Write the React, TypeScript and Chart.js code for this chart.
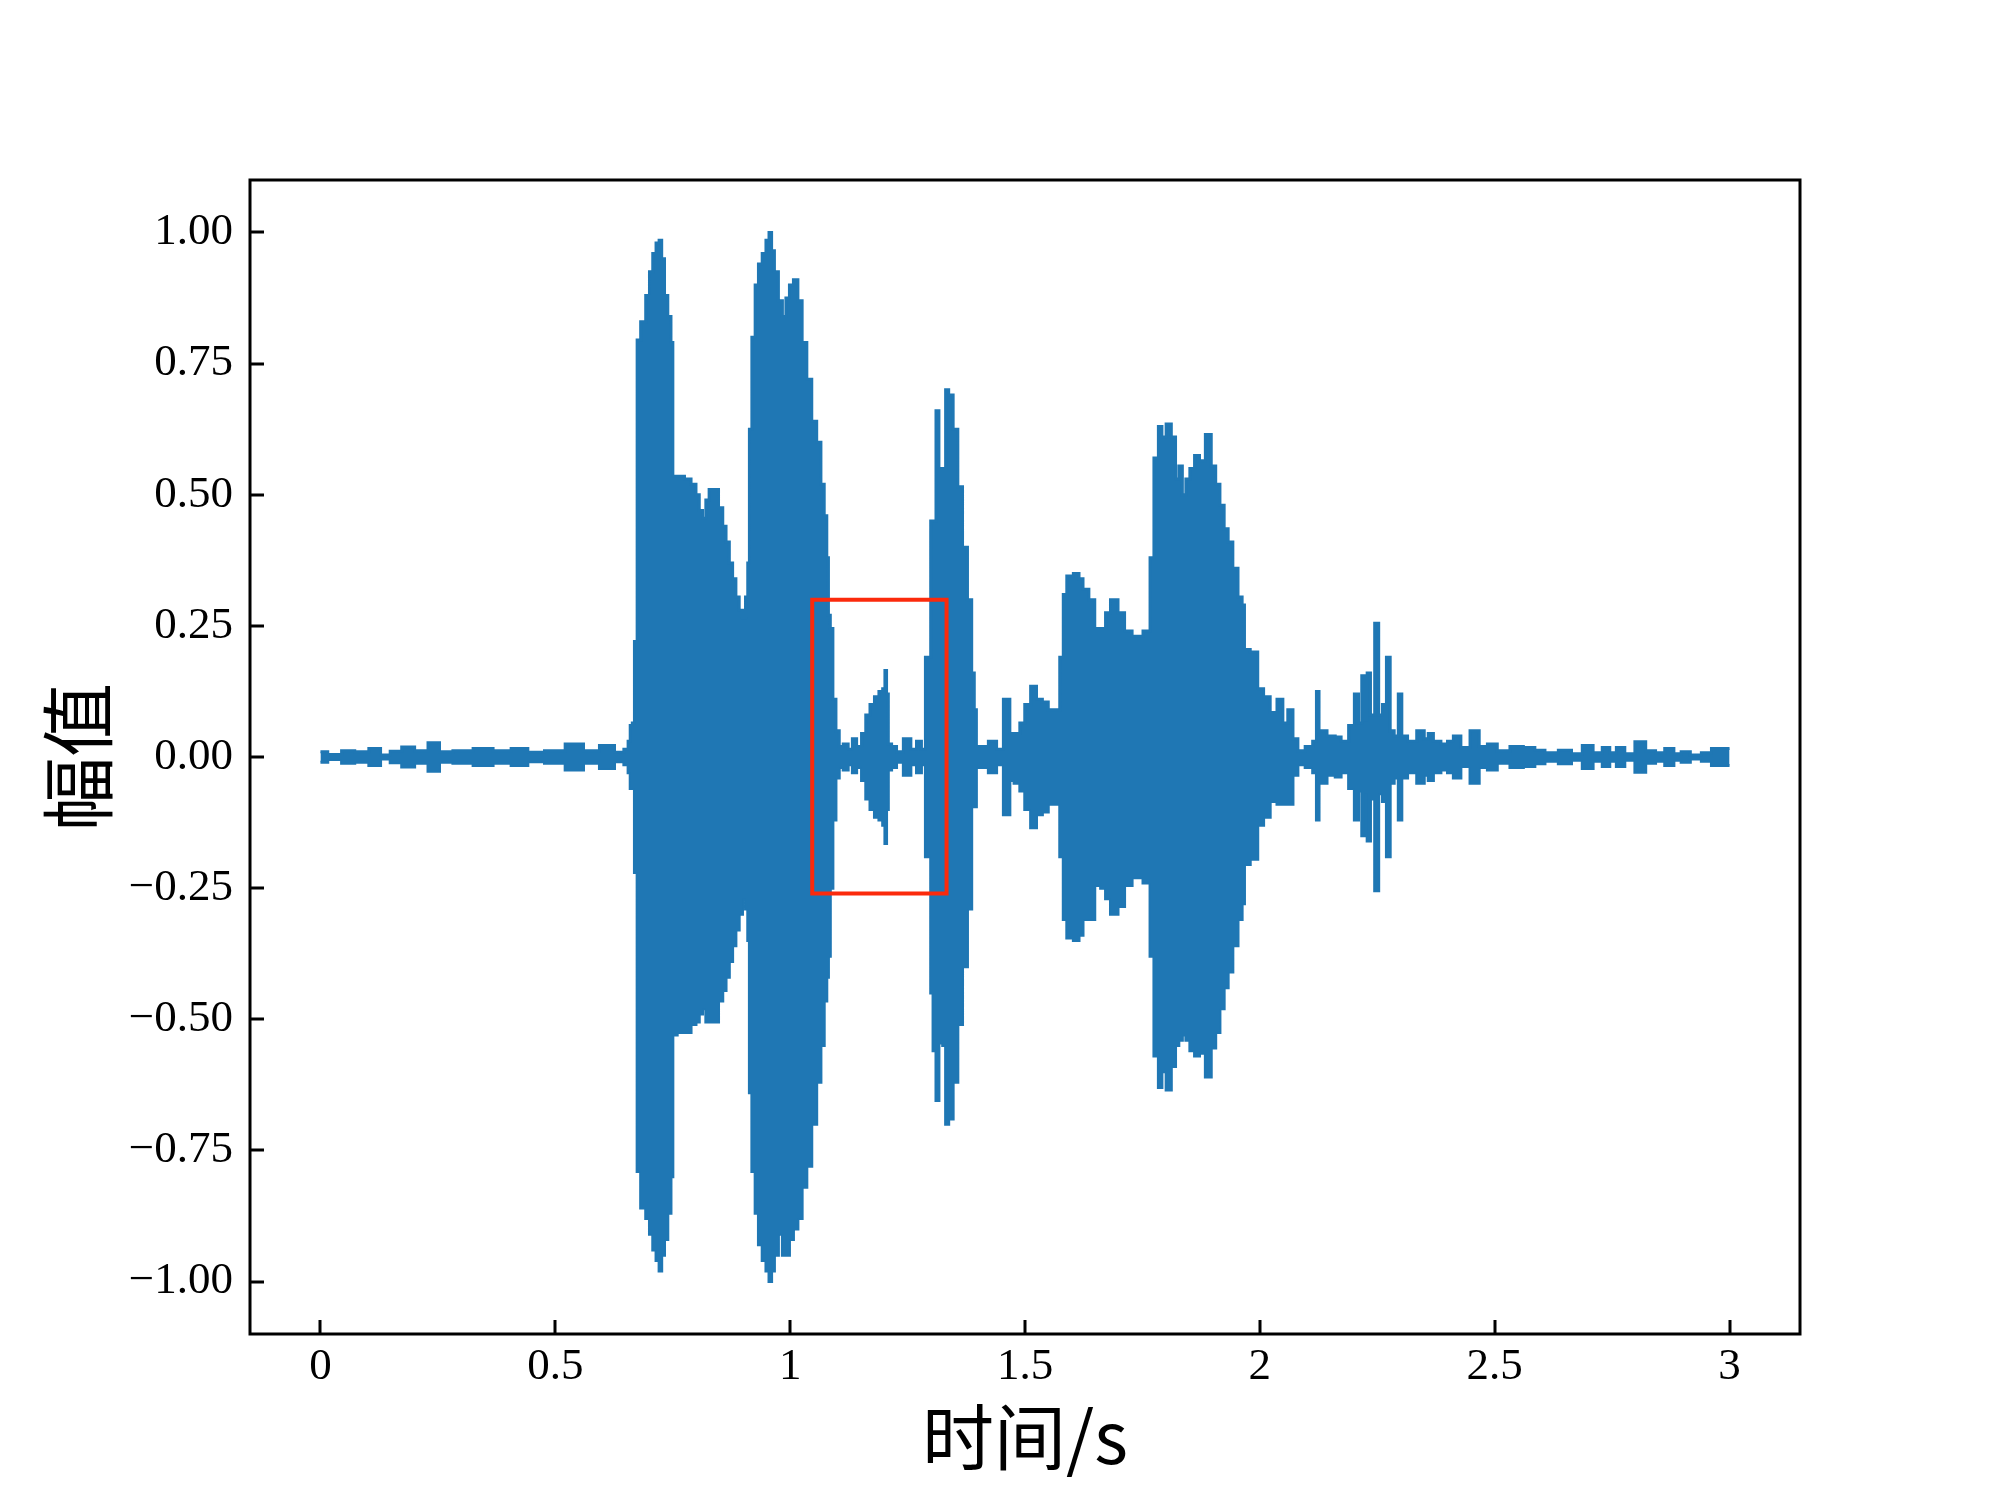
import React, { useEffect, useRef } from 'react';
import { Chart, registerables } from 'chart.js';

Chart.register(...registerables);

// ---- data ----
// time axis (s) of the envelope readings
const timeS = [
  // quiet start
  0.000, 0.031, 0.059, 0.087, 0.119, 0.137, 0.160, 0.186, 0.215, 0.243, 0.264, 0.300, 0.350, 0.385, 0.427, 0.456, 0.498, 0.544, 0.576, 0.612, 0.640, 0.652,
  // bursts 1 & 2
  0.658, 0.661, 0.667, 0.670, 0.673, 0.6755, 0.688, 0.697, 0.704, 0.711, 0.718, 0.724, 0.729, 0.736, 0.743, 0.7495, 0.751, 0.768, 0.782, 0.796, 0.803, 0.810, 0.817, 0.824, 0.831, 0.842, 0.853, 0.860, 0.867, 0.874, 0.881, 0.888, 0.895, 0.902, 0.908, 0.9115, 0.915, 0.922, 0.929, 0.936, 0.945, 0.952, 0.958, 0.963, 0.970, 0.980, 0.987, 0.995, 1.002, 1.012, 1.021, 1.030, 1.041, 1.051, 1.062, 1.069, 1.076, 1.080, 1.083, 1.088, 1.094, 1.101,
  // gap + burst 3
  1.108, 1.118, 1.129, 1.136, 1.147, 1.157, 1.165, 1.175, 1.184, 1.194, 1.200, 1.2035, 1.207, 1.211, 1.221, 1.232, 1.250, 1.264, 1.274, 1.285, 1.291, 1.298, 1.3005, 1.308, 1.313, 1.3205, 1.329, 1.333, 1.342, 1.352, 1.362, 1.372, 1.383, 1.390, 1.394, 1.399, 1.413, 1.431, 1.448, 1.460, 1.466, 1.4695, 1.484, 1.494, 1.505, 1.519, 1.530, 1.544, 1.555, 1.569, 1.579, 1.584, 1.594, 1.612,
  // burst 4
  1.618, 1.629, 1.643, 1.654, 1.668, 1.675, 1.689, 1.707, 1.717, 1.739, 1.7635, 1.769, 1.780, 1.788, 1.795, 1.806, 1.817, 1.824, 1.831, 1.839, 1.846, 1.856, 1.866, 1.877, 1.891, 1.902, 1.910, 1.920, 1.928, 1.937, 1.948, 1.959, 1.9655, 1.969, 1.990, 2.001, 2.015, 2.029, 2.044, 2.054, 2.065, 2.076, 2.086, 2.107, 2.118, 2.123, 2.129, 2.157,
  // clicks
  2.164, 2.182, 2.196, 2.2065, 2.2135, 2.2205, 2.226, 2.231, 2.240, 2.249, 2.257, 2.265, 2.274, 2.281, 2.291, 2.2985, 2.306, 2.323, 2.345, 2.355, 2.362, 2.377, 2.394, 2.405, 2.419, 2.437, 2.458, 2.476, 2.493, 2.518, 2.547, 2.575,
  // quiet end
  2.596, 2.618, 2.653, 2.674, 2.699, 2.720, 2.738, 2.752, 2.766, 2.788, 2.809, 2.834, 2.851, 2.873, 2.890, 2.904, 2.929, 2.951, 2.972, 3.000,
];

// upper envelope of the amplitude
const upperEnv = [
  0.010, 0.005, 0.012, 0.010, 0.016, 0.004, 0.011, 0.019, 0.012, 0.027, 0.010, 0.012, 0.016, 0.012, 0.016, 0.009, 0.012, 0.025, 0.012, 0.022, 0.009, 0.015,
  0.030, 0.060, 0.065, 0.220, 0.220, 0.795, 0.830, 0.880, 0.925, 0.960, 0.980, 0.985, 0.950, 0.880, 0.840, 0.790, 0.535, 0.535, 0.530, 0.520, 0.500, 0.470, 0.455, 0.490, 0.510, 0.510, 0.475, 0.440, 0.410, 0.370, 0.340, 0.305, 0.280, 0.265, 0.305, 0.370, 0.625, 0.800, 0.900, 0.940, 0.960, 0.985, 1.000, 0.965, 0.925, 0.870, 0.840, 0.875, 0.900, 0.910, 0.870, 0.790, 0.720, 0.640, 0.600, 0.520, 0.460, 0.380, 0.270, 0.245, 0.110, 0.050,
  0.020, 0.025, 0.015, 0.035, 0.020, 0.045, 0.080, 0.100, 0.115, 0.125, 0.130, 0.165, 0.120, 0.025, 0.020, 0.010, 0.035, 0.015, 0.030, 0.015, 0.190, 0.190, 0.450, 0.450, 0.660, 0.550, 0.550, 0.700, 0.690, 0.625, 0.515, 0.400, 0.300, 0.160, 0.090, 0.020, 0.020, 0.030, 0.015, 0.110, 0.110, 0.045, 0.045, 0.065, 0.100, 0.135, 0.110, 0.105, 0.090, 0.090, 0.190, 0.310, 0.345, 0.350,
  0.340, 0.320, 0.300, 0.245, 0.245, 0.275, 0.300, 0.275, 0.240, 0.230, 0.240, 0.380, 0.570, 0.630, 0.610, 0.635, 0.610, 0.530, 0.555, 0.500, 0.530, 0.550, 0.575, 0.565, 0.615, 0.555, 0.520, 0.480, 0.435, 0.410, 0.360, 0.305, 0.290, 0.205, 0.200, 0.130, 0.115, 0.085, 0.110, 0.065, 0.090, 0.035, 0.012, 0.020, 0.030, 0.125, 0.050, 0.040,
  0.038, 0.030, 0.060, 0.120, 0.065, 0.155, 0.070, 0.160, 0.080, 0.255, 0.080, 0.100, 0.190, 0.050, 0.040, 0.120, 0.040, 0.030, 0.050, 0.035, 0.045, 0.030, 0.025, 0.030, 0.040, 0.018, 0.050, 0.020, 0.025, 0.012, 0.020, 0.018,
  0.013, 0.008, 0.013, 0.006, 0.022, 0.008, 0.018, 0.008, 0.018, 0.006, 0.029, 0.012, 0.008, 0.016, 0.006, 0.010, 0.004, 0.008, 0.016, 0.016,
];

// lower envelope of the amplitude
const lowerEnv = [
  -0.010, -0.005, -0.012, -0.010, -0.016, -0.004, -0.011, -0.019, -0.012, -0.027, -0.010, -0.012, -0.016, -0.012, -0.016, -0.009, -0.012, -0.025, -0.012, -0.022, -0.009, -0.015,
  -0.030, -0.060, -0.060, -0.220, -0.220, -0.790, -0.860, -0.880, -0.910, -0.940, -0.960, -0.980, -0.950, -0.920, -0.870, -0.800, -0.530, -0.525, -0.525, -0.510, -0.505, -0.490, -0.480, -0.505, -0.505, -0.505, -0.465, -0.445, -0.420, -0.390, -0.360, -0.330, -0.300, -0.270, -0.290, -0.350, -0.640, -0.790, -0.870, -0.930, -0.960, -0.980, -1.000, -0.980, -0.950, -0.910, -0.950, -0.950, -0.920, -0.900, -0.880, -0.820, -0.780, -0.700, -0.620, -0.550, -0.465, -0.420, -0.380, -0.250, -0.120, -0.040,
  -0.020, -0.025, -0.015, -0.030, -0.020, -0.045, -0.080, -0.100, -0.115, -0.120, -0.130, -0.165, -0.100, -0.025, -0.020, -0.010, -0.035, -0.015, -0.030, -0.015, -0.190, -0.190, -0.450, -0.560, -0.655, -0.545, -0.550, -0.700, -0.690, -0.620, -0.510, -0.400, -0.290, -0.090, -0.095, -0.020, -0.020, -0.030, -0.015, -0.110, -0.110, -0.045, -0.050, -0.065, -0.100, -0.135, -0.110, -0.105, -0.090, -0.090, -0.190, -0.310, -0.345, -0.350,
  -0.340, -0.310, -0.310, -0.245, -0.250, -0.270, -0.300, -0.285, -0.245, -0.230, -0.240, -0.380, -0.570, -0.630, -0.600, -0.635, -0.590, -0.550, -0.540, -0.530, -0.540, -0.560, -0.570, -0.565, -0.610, -0.555, -0.525, -0.480, -0.440, -0.410, -0.360, -0.310, -0.280, -0.205, -0.195, -0.130, -0.115, -0.085, -0.090, -0.090, -0.090, -0.035, -0.015, -0.020, -0.030, -0.120, -0.050, -0.035,
  -0.038, -0.030, -0.060, -0.120, -0.065, -0.150, -0.070, -0.160, -0.080, -0.255, -0.070, -0.085, -0.190, -0.050, -0.040, -0.120, -0.040, -0.030, -0.050, -0.035, -0.045, -0.030, -0.025, -0.030, -0.040, -0.018, -0.050, -0.020, -0.025, -0.012, -0.020, -0.018,
  -0.013, -0.008, -0.013, -0.006, -0.022, -0.008, -0.018, -0.008, -0.018, -0.006, -0.029, -0.012, -0.008, -0.016, -0.006, -0.010, -0.004, -0.008, -0.016, -0.016,
];

// highlighted region (red box)
const boxTime = [1.047, 1.333];
const boxAmp = [-0.26, 0.30];

const xRange = [-0.15, 3.15];
const yRange = [-1.1, 1.1];
const xTicks = [0, 0.5, 1, 1.5, 2, 2.5, 3];
const xTickLabels = ['0', '0.5', '1', '1.5', '2', '2.5', '3'];
const yTicks = [-1, -0.75, -0.5, -0.25, 0, 0.25, 0.5, 0.75, 1];
const yTickLabels = ['\u22121.00', '\u22120.75', '\u22120.50', '\u22120.25', '0.00', '0.25', '0.50', '0.75', '1.00'];
const xTitle = '时间/s';
const yTitle = '幅值';

const BLUE = '#1f77b4';
const RED = '#fb2a0c';
const TICK_FONT = { family: "'Liberation Serif', 'DejaVu Serif', serif", size: 45 };
const TITLE_FONT = { family: "'Noto Sans CJK SC', sans-serif", size: 72 };

const framePlugin = {
  id: 'frameAndInwardTicks',
  afterDraw(chart: any) {
    const { ctx, chartArea: a, scales } = chart;
    ctx.save();
    ctx.strokeStyle = '#000';
    ctx.lineWidth = 3;
    ctx.strokeRect(a.left, a.top, a.right - a.left, a.bottom - a.top);
    ctx.beginPath();
    for (const v of xTicks) {
      const px = Math.round(scales.x.getPixelForValue(v));
      ctx.moveTo(px, a.bottom);
      ctx.lineTo(px, a.bottom - 14);
    }
    for (const v of yTicks) {
      const py = Math.round(scales.y.getPixelForValue(v));
      ctx.moveTo(a.left, py);
      ctx.lineTo(a.left + 14, py);
    }
    ctx.stroke();
    ctx.restore();
  },
};

export default function App() {
  const canvasRef = useRef<HTMLCanvasElement | null>(null);

  useEffect(() => {
    const canvas = canvasRef.current;
    if (!canvas) return;
    const boxData = [
      { x: boxTime[0], y: boxAmp[0] },
      { x: boxTime[0], y: boxAmp[1] },
      { x: boxTime[1], y: boxAmp[1] },
      { x: boxTime[1], y: boxAmp[0] },
      { x: boxTime[0], y: boxAmp[0] },
    ];
    const chart = new Chart(canvas, {
      type: 'line',
      data: {
        datasets: [
          {
            label: 'box',
            data: boxData,
            borderColor: RED,
            borderWidth: 4,
            pointRadius: 0,
            fill: false,
            borderCapStyle: 'square',
            borderJoinStyle: 'miter',
            tension: 0,
          },
          {
            label: 'upper',
            data: timeS.map((t, i) => ({ x: t, y: upperEnv[i] })),
            borderColor: BLUE,
            backgroundColor: BLUE,
            borderWidth: 3,
            pointRadius: 0,
            fill: '+1',
            stepped: 'middle',
          },
          {
            label: 'lower',
            data: timeS.map((t, i) => ({ x: t, y: lowerEnv[i] })),
            borderColor: BLUE,
            borderWidth: 3,
            pointRadius: 0,
            fill: false,
            stepped: 'middle',
          },
        ],
      } as any,
      options: {
        animation: false,
        responsive: false,
        devicePixelRatio: 1,
        events: [],
        layout: { padding: { left: 0, top: 180, right: 200, bottom: 0 } },
        plugins: { legend: { display: false }, tooltip: { enabled: false } },
        scales: {
          x: {
            type: 'linear',
            min: xRange[0],
            max: xRange[1],
            afterBuildTicks: (s: any) => {
              s.ticks = xTicks.map((v) => ({ value: v }));
            },
            afterFit: (s: any) => {
              s.height = 165;
            },
            grid: { display: false, drawTicks: false },
            border: { display: false },
            ticks: {
              autoSkip: false,
              maxRotation: 0,
              padding: 6,
              color: '#000',
              font: TICK_FONT,
              callback: (_v: any, i: number) => xTickLabels[i],
            },
            title: {
              display: true,
              text: xTitle,
              color: '#000',
              font: TITLE_FONT,
              padding: { top: 0, bottom: 19 },
            },
          },
          y: {
            type: 'linear',
            min: yRange[0],
            max: yRange[1],
            afterBuildTicks: (s: any) => {
              s.ticks = yTicks.map((v) => ({ value: v }));
            },
            afterFit: (s: any) => {
              s.width = 250;
            },
            grid: { display: false, drawTicks: false },
            border: { display: false },
            ticks: {
              autoSkip: false,
              padding: 17,
              color: '#000',
              font: TICK_FONT,
              callback: (_v: any, i: number) => yTickLabels[i],
            },
            title: {
              display: true,
              text: yTitle,
              color: '#000',
              font: { ...TITLE_FONT, size: 74 },
              padding: { top: 33, bottom: 0 },
            },
          },
        },
      } as any,
      plugins: [framePlugin],
    });
    return () => chart.destroy();
  }, []);

  return (
    <div style={{ position: 'absolute', left: 0, top: 0, width: 2000, height: 1499, background: '#fff' }}>
      <canvas ref={canvasRef} width={2000} height={1499} style={{ display: 'block' }} />
    </div>
  );
}
